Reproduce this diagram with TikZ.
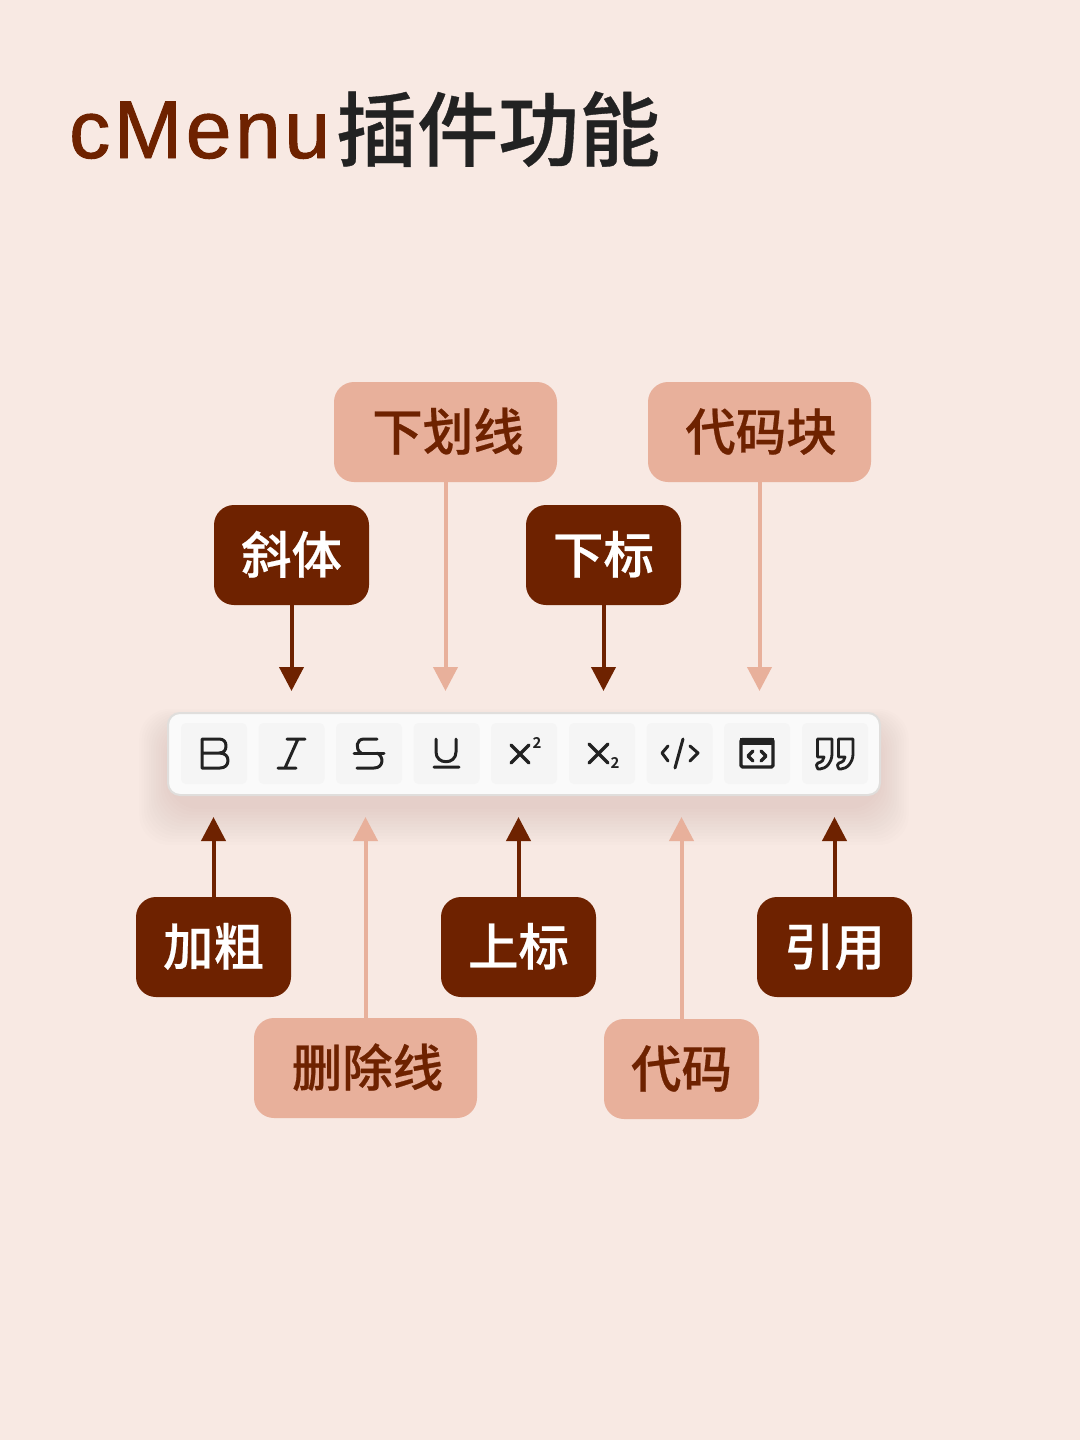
\documentclass[tikz,border=0pt]{standalone}
\usepackage{fontspec}
\usetikzlibrary{arrows.meta}
\newfontfamily\cjkf[FakeBold=0.45]{Noto Sans CJK SC Medium}
\newfontfamily\cjkb{Noto Sans CJK SC Bold}
\newfontfamily\latf[LetterSpace=4.5,FakeBold=1.2]{Liberation Sans}
\definecolor{bgc}{HTML}{F8E9E3}
\definecolor{darkc}{HTML}{6E2200}
\definecolor{lightc}{HTML}{E8B09B}
\definecolor{inkc}{HTML}{222222}
\definecolor{btnc}{HTML}{F5F5F5}
\definecolor{barc}{HTML}{FAFAFA}
\definecolor{edgec}{HTML}{E0DEDC}
\tikzset{
  x=1pt,y=-1pt,
  lbl/.style={rounded corners=20pt,inner sep=0pt,minimum height=100pt,text height=42pt,text depth=5pt,font=\cjkf\fontsize{50.5}{60}\selectfont},
  darkbox/.style={lbl,fill=darkc,text=white,minimum width=155pt},
  lightbox/.style={lbl,fill=lightc,text=darkc,minimum width=223pt},
  lightshort/.style={lbl,fill=lightc,text=darkc,minimum width=155pt},
  darkarrow/.style={draw=darkc,line width=4pt,-{Triangle[width=24pt,length=24pt]}},
  lightarrow/.style={draw=lightc,line width=4pt,-{Triangle[width=24pt,length=24pt]}},
  btn/.style={fill=btnc,rounded corners=5pt,minimum width=66pt,minimum height=61pt,inner sep=0pt},
  ico/.style={draw=inkc,line width=3pt,line cap=round,line join=round},
  sub2/.style={inner sep=0pt,text=inkc,font=\cjkb\fontsize{15}{15}\selectfont}
}
\begin{document}
\begin{tikzpicture}
\useasboundingbox (0,0) rectangle (1080,1440);
\fill[bgc] (0,0) rectangle (1080,1440);
% title
\node[anchor=base west,inner sep=0pt,text=darkc,font=\latf\fontsize{82}{90}\selectfont] (t1) at (69,158) {cMenu};
\node[anchor=base west,inner sep=0pt,text=inkc,font=\cjkf\fontsize{81}{90}\selectfont] (t2) at (336,160) {插件功能};
% toolbar shadow
\foreach \g in {36,33,...,0}{
  \fill[darkc,opacity=0.008,rounded corners=30pt] (168-0.8*\g,727-0.5*\g) rectangle (880+0.8*\g,809+\g);
}
\node[fill=barc,draw=edgec,line width=2pt,rounded corners=12pt,minimum width=712pt,minimum height=82pt,inner sep=0pt] (bar) at (524,754) {};
\node[btn] (b1) at (214,753.5) {};
\node[btn] (b2) at (291.5,753.5) {};
\node[btn] (b3) at (369,753.5) {};
\node[btn] (b4) at (446.5,753.5) {};
\node[btn] (b5) at (524,753.5) {};
\node[btn] (b6) at (602,753.5) {};
\node[btn] (b7) at (679.5,753.5) {};
\node[btn] (b8) at (757,753.5) {};
\node[btn] (b9) at (835,753.5) {};
% B
\draw[ico] (202,753) -- (219,753) .. controls (224,753) and (226,750) .. (226,746) .. controls (226,742) and (224,739) .. (219,739) -- (202,739) -- (202,768) -- (220,768) .. controls (225,768) and (228,765) .. (228,760.5) .. controls (228,756) and (225,753) .. (219,753);
% I
\draw[ico] (287,739) -- (305,739) (278,768) -- (296,768) (298,739) -- (285,768);
% S
\draw[ico] (354,753) -- (384,753);
\draw[ico] (377,739) -- (364,739) .. controls (356,739) and (355,749) .. (361,753);
\draw[ico] (377,753) .. controls (384,756) and (384,768) .. (374,768) -- (357,768);
% U
\draw[ico] (436,739) -- (436,752) .. controls (436,765) and (456,765) .. (456,752) -- (456,739) (434,767) -- (459,767);
% x2 sup
\draw[ico,line width=3.4pt] (511,745) -- (529,763) (529,745) -- (511,763);
\node[sub2] (sup) at (537,743) {2};
% x2 sub
\draw[ico,line width=3.4pt] (589,744) -- (608,763) (608,744) -- (589,763);
\node[sub2] (sub) at (615,763) {2};
% code
\draw[ico] (668,746) -- (662,753) -- (668,761) (683,739) -- (675,768) (690,746) -- (698,753) -- (690,761);
% code block
\draw[ico,rounded corners=1.5pt,line width=3.4pt] (741,739.5) rectangle (773,767);
\fill[inkc] (740,738) rectangle (774,745);
\draw[ico,line width=3.4pt] (753,751) -- (748,756) -- (753,761) (761,751) -- (766,756) -- (761,761);
% quote
\foreach \d in {0,21}{
  \draw[ico,line width=2.8pt,xshift=\d pt] (817.5,739) -- (832,739) -- (832,754) .. controls (832,762) and (826,769) .. (820,769) -- (818,769) .. controls (816,766) and (816,763) .. (818,763) .. controls (822,762) and (824,760) .. (824,757) -- (817.5,757) -- cycle;
}
% labels
\node[lightbox] (xhx) at (445.5,432) {\hspace{5pt}下划线};
\node[lightbox] (dmk) at (759.5,432) {\hspace{3pt}代码块};
\node[darkbox] (xt) at (291.5,555) {斜体};
\node[darkbox] (xb) at (603.5,555) {下标};
\node[darkbox] (jc) at (213.5,947) {加粗};
\node[darkbox] (sb) at (518.5,947) {上标};
\node[darkbox] (yy) at (834.5,947) {引用};
\node[lightbox] (scx) at (365.5,1068) {\hspace{4pt}删除线};
\node[lightshort] (dm) at (681.5,1069) {代码};
% arrow ends
\coordinate (e2) at (291.5,691);
\coordinate (e4) at (445.5,691);
\coordinate (e6) at (603.5,691);
\coordinate (e8) at (759.5,691);
\coordinate (e1) at (213.5,817);
\coordinate (e3) at (365.5,817);
\coordinate (e5) at (518.5,817);
\coordinate (e7) at (681.5,817);
\coordinate (e9) at (834.5,817);
\draw[darkarrow] (xt.south) -- (e2);
\draw[lightarrow] (xhx.south) -- (e4);
\draw[darkarrow] (xb.south) -- (e6);
\draw[lightarrow] (dmk.south) -- (e8);
\draw[darkarrow] (jc.north) -- (e1);
\draw[lightarrow] (scx.north) -- (e3);
\draw[darkarrow] (sb.north) -- (e5);
\draw[lightarrow] (dm.north) -- (e7);
\draw[darkarrow] (yy.north) -- (e9);
\end{tikzpicture}
\end{document}
